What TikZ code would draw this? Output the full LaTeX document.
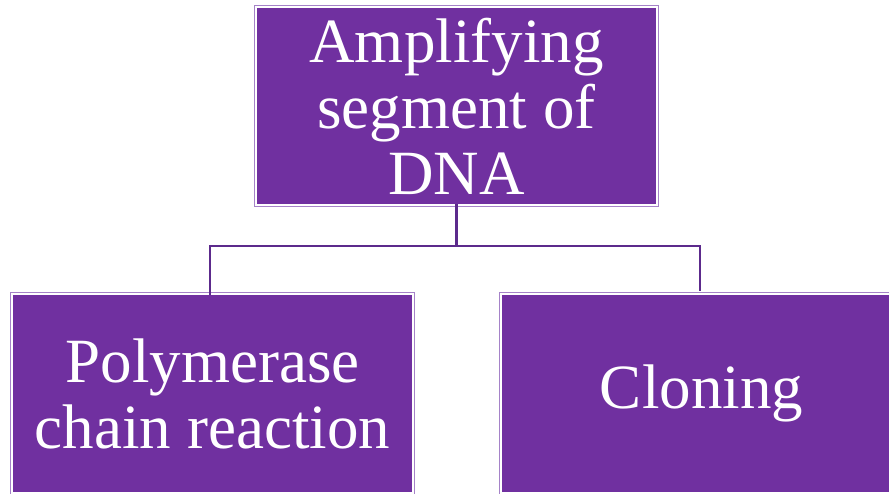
\documentclass[tikz,border=0pt]{standalone}
\usepackage{fontspec}
\setmainfont{Liberation Serif}
\definecolor{boxpurple}{HTML}{7030A0}
\definecolor{edgepurple}{HTML}{A582C8}
\definecolor{linepurple}{HTML}{5C2A8C}
\tikzset{
  pbox/.style={fill=boxpurple, text=white, inner sep=0pt, align=center,
    font=\fontsize{63}{66}\selectfont},
  conn/.style={draw=linepurple, line width=2.2pt},
  outl/.style={draw=edgepurple, line width=1pt}
}
\begin{document}
\begin{tikzpicture}[x=1pt,y=1pt]
\useasboundingbox (0,0) rectangle (889,494);
\clip (0,0) rectangle (889,494);
\fill[white] (0,0) rectangle (889,494);
\node[pbox, minimum width=399pt, minimum height=196pt] (top) at (456.5,388) {Amplifying\\segment of\\DNA};
\node[pbox, minimum width=399pt, minimum height=197pt] (pcr) at (212.5,100.5) {Polymerase\\chain reaction};
\node[pbox, minimum width=399pt, minimum height=197pt] (clo) at (701.5,100.5) {Cloning};
\foreach \n in {top,pcr,clo}{
  \draw[outl] ([shift={(-2.5,-2.5)}]\n.south west) rectangle ([shift={(2.5,2.5)}]\n.north east);
}
\draw[conn] (top.south) -- ++(0,-42) coordinate (mid) -| ([xshift=-2.5pt]pcr.north);
\draw[conn, shorten >=4pt] (mid) -| ([xshift=-1.5pt]clo.north);
\end{tikzpicture}
\end{document}
